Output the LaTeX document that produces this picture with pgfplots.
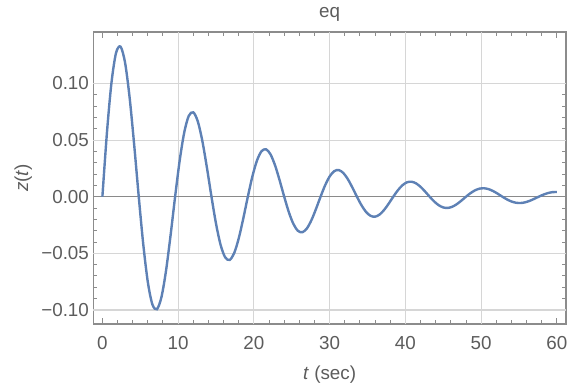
\documentclass[border=0pt]{standalone}
\usepackage{pgfplots}
\pgfplotsset{compat=1.18}
\usepackage{fontspec}
\setmainfont{Liberation Sans}
\definecolor{mblue}{HTML}{5E81B5}
\definecolor{gridc}{HTML}{D6D6D6}
\definecolor{framec}{HTML}{8C8C8C}
\definecolor{labelc}{HTML}{5C5C5C}
\definecolor{zeroc}{HTML}{8A8A8A}
\newcommand{\tf}{\fontsize{9.4}{11.3}\selectfont}
\begin{document}
\begin{tikzpicture}
\path[use as bounding box] (0,0) rectangle (284pt,193.5pt);
\begin{axis}[
  at={(46.65pt,31.5pt)}, anchor=south west,
  scale only axis, width=236.35pt, height=146pt,
  xmin=-1.2, xmax=61.2, ymin=-0.1124, ymax=0.1454,
  axis line style={framec, line width=0.6pt},
  tick style={framec, line width=0.5pt},
  tick align=inside,
  major tick length=2.8pt, minor tick length=1.8pt,
  xtick={0,10,20,30,40,50,60},
  xticklabels={0,10,20,30,40,50,60},
  ytick={-0.10,-0.05,0,0.05,0.10},
  yticklabels={−0.10,−0.05,0.00,0.05,0.10},
  minor x tick num=4, minor y tick num=4,
  extra x ticks={10,20,30,40,50}, extra x tick labels={},
  extra x tick style={grid=major, major tick length=0pt},
  extra y ticks={-0.10,-0.05,0.05,0.10}, extra y tick labels={},
  extra y tick style={grid=major, major tick length=0pt},
  major grid style={gridc, line width=0.55pt},
  xticklabel style={font=\tf, text=labelc, anchor=base, yshift=-12.5pt, inner sep=0pt},
  yticklabel style={font=\tf, text=labelc, anchor=east, xshift=-2pt, inner sep=0pt},
  xlabel={\textit{t} (sec)},
  xlabel style={font=\tf, text=labelc, at={(axis description cs:0.5,-0.1747)}, anchor=center, inner sep=0pt},
  ylabel={\textit{z}(\textit{t})},
  ylabel style={font=\tf, text=labelc, at={(axis description cs:-0.148,0.5)}, anchor=center, inner sep=0pt},
  clip=false,
]
\draw[zeroc, line width=0.65pt] (axis cs:-1.2,0) -- (axis cs:61.2,0);
\addplot[mblue, line width=1.2pt, smooth, no marks] coordinates {
(0,0) (0.6,0.05648) (1.2,0.10067) (1.8,0.12689) (2.4,0.13248) (3.0,0.11807)
(3.6,0.08717) (4.2,0.04551) (4.8,0) (5.4,-0.04235) (6.0,-0.07548) (6.6,-0.09513)
(7.2,-0.09933) (7.8,-0.08853) (8.4,-0.06536) (9.0,-0.03412) (9.6,0)
(10.2,0.03175) (10.8,0.05659) (11.4,0.07133) (12.0,0.07447) (12.6,0.06637)
(13.2,0.04900) (13.8,0.02558) (14.4,0) (15.0,-0.02381) (15.6,-0.04243)
(16.2,-0.05348) (16.8,-0.05584) (17.4,-0.04976) (18.0,-0.03674) (18.6,-0.01918)
(19.2,0) (19.8,0.01785) (20.4,0.03181) (21.0,0.04010) (21.6,0.04186)
(22.2,0.03731) (22.8,0.02755) (23.4,0.01438) (24.0,0) (24.6,-0.01338)
(25.2,-0.02385) (25.8,-0.03006) (26.4,-0.03139) (27.0,-0.02798) (27.6,-0.02065)
(28.2,-0.01078) (28.8,0) (29.4,0.01003) (30.0,0.01788) (30.6,0.02254)
(31.2,0.02353) (31.8,0.02097) (32.4,0.01549) (33.0,0.00809) (33.6,0)
(34.2,-0.00752) (34.8,-0.01341) (35.4,-0.01690) (36.0,-0.01765) (36.6,-0.01572)
(37.2,-0.01161) (37.8,-0.00606) (38.4,0) (39.0,0.00564) (39.6,0.01006)
(40.2,0.01268) (40.8,0.01323) (41.4,0.01179) (42.0,0.00870) (42.6,0.00455)
(43.2,0) (43.8,-0.00423) (44.4,-0.00754) (45.0,-0.00950) (45.6,-0.00992)
(46.2,-0.00884) (46.8,-0.00653) (47.4,-0.00341) (48.0,0) (48.6,0.00317)
(49.2,0.00565) (49.8,0.00712) (50.4,0.00744) (51.0,0.00662) (51.6,0.00489)
(52.2,0.00256) (52.8,0) (53.4,-0.00238) (54.0,-0.00424) (54.6,-0.00534)
(55.2,-0.00558) (55.8,-0.00497) (56.4,-0.00367) (57.0,-0.00191) (57.6,0)
(58.2,0.00178) (58.8,0.00317) (59.4,0.00400) (60.0,0.00418)
};
\node[font=\tf, text=labelc, anchor=base, inner sep=0pt] at ([yshift=7.5pt]rel axis cs:0.5,1) {eq};
\end{axis}
\end{tikzpicture}
\end{document}
